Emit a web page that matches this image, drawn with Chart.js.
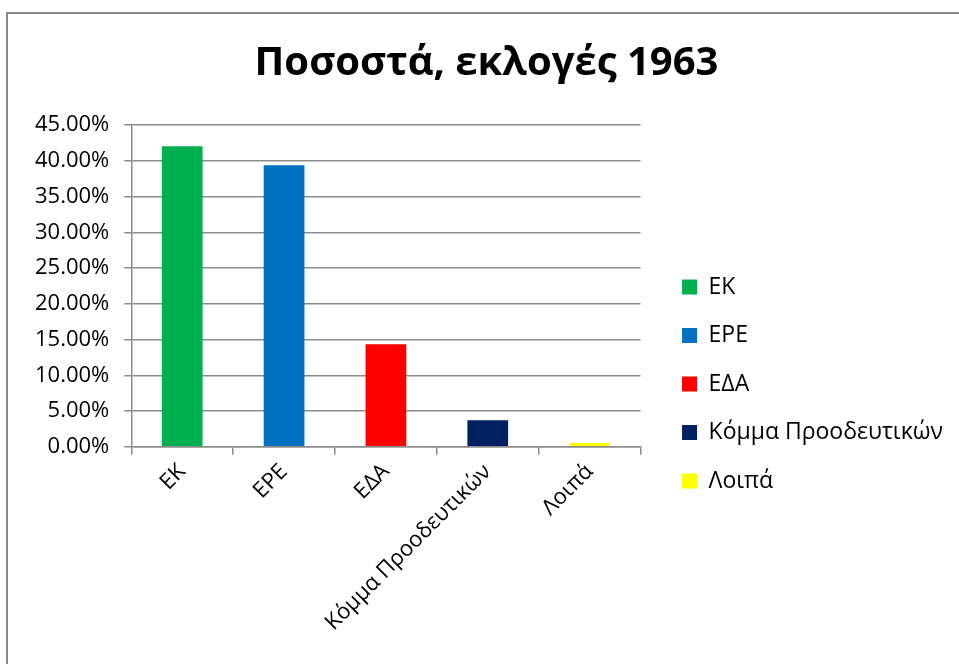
<!DOCTYPE html>
<html>
<head>
<meta charset="utf-8">
<script src="https://cdn.jsdelivr.net/npm/chart.js@4"></script>
<style>
  html, body { margin: 0; padding: 0; background: #fff; overflow: hidden; }
  #frame {
    position: absolute; left: 6px; top: 12px; width: 1000px; height: 700px;
    border: 2px solid #878787; box-sizing: border-box;
  }
  #chart { position: absolute; left: 0; top: 0; }
</style>
</head>
<body>
<div id="frame"></div>
<canvas id="chart" width="959" height="664"></canvas>
<script>
// Election results 1963 (percent)
const parties = ["ΕΚ", "ΕΡΕ", "ΕΔΑ", "Κόμμα Προοδευτικών", "Λοιπά"];
const shares = [42.04, 39.37, 14.34, 3.72, 0.53];
const colors = ["#00b050", "#0070c0", "#ff0000", "#002060", "#ffff00"];
const yMax = 45;
const yStep = 5;

const FONT = "'Open Sans', 'Liberation Sans', sans-serif";
const gridColor = "#8c8c8c";

// legend tweaks: Chart.js caps a side legend at a quarter of the width,
// and puts it right against the plot; give it room and a small gap
const LEGEND_GAP = 16;
const LEGEND_TOP = 250;
const TITLE_SHIFT = 8;
const legendFix = {
    id: "legendFix",
    beforeLayout: function (chart) {
        const lg = chart.legend;
        if (lg && !lg._wide) {
            const orig = lg.update.bind(lg);
            lg.update = function (w, h, m) { return orig(600, h, m); };
            lg._wide = true;
        }
    },
    afterLayout: function (chart) {
        const lg = chart.legend;
        lg.left += LEGEND_GAP;
        lg.right += LEGEND_GAP;
        lg.top = LEGEND_TOP;
        // the frame runs off the right edge, so the title sits a bit right of centre
        chart.titleBlock.left += TITLE_SHIFT;
        chart.titleBlock.right += TITLE_SHIFT;
    }
};

new Chart(document.getElementById("chart"), {
    type: "bar",
    data: {
        labels: parties,
        datasets: [{
            label: "Ποσοστά",
            data: shares,
            backgroundColor: colors,
            borderWidth: 0,
            barPercentage: 0.4,
            categoryPercentage: 1
        }]
    },
    plugins: [legendFix],
    options: {
        responsive: false,
        animation: false,
        devicePixelRatio: 1,
        layout: { padding: { left: 20, right: 22, top: 40, bottom: 24 } },
        plugins: {
            tooltip: { enabled: false },
            title: {
                display: true,
                text: "Ποσοστά, εκλογές 1963",
                color: "#000",
                font: { family: FONT, size: 40, weight: "bold" },
                padding: { top: 0, bottom: 37 }
            },
            legend: {
                position: "right",
                align: "start",
                labels: {
                    color: "#000",
                    font: { family: FONT, size: 23 },
                    boxWidth: 15,
                    boxHeight: 15,
                    padding: 25.5,
                    generateLabels: function (chart) {
                        return parties.map(function (p, i) {
                            return {
                                text: p,
                                fillStyle: colors[i],
                                strokeStyle: colors[i],
                                lineWidth: 0,
                                index: i,
                                datasetIndex: 0
                            };
                        });
                    }
                }
            }
        },
        scales: {
            x: {
                grid: {
                    offset: true,
                    drawOnChartArea: false,
                    color: gridColor,
                    lineWidth: 1.5,
                    tickLength: 8
                },
                border: { color: gridColor, width: 1.5 },
                ticks: {
                    color: "#000",
                    font: { family: FONT, size: 22 },
                    minRotation: 45,
                    maxRotation: 45,
                    padding: 4
                }
            },
            y: {
                min: 0,
                max: yMax,
                grid: { color: gridColor, lineWidth: 1.5, tickLength: 7 },
                border: { color: gridColor, width: 1.5 },
                ticks: {
                    stepSize: yStep,
                    color: "#000",
                    font: { family: FONT, size: 22 },
                    padding: 15,
                    callback: function (v) { return v.toFixed(2) + "%"; }
                }
            }
        }
    }
});
</script>
</body>
</html>
